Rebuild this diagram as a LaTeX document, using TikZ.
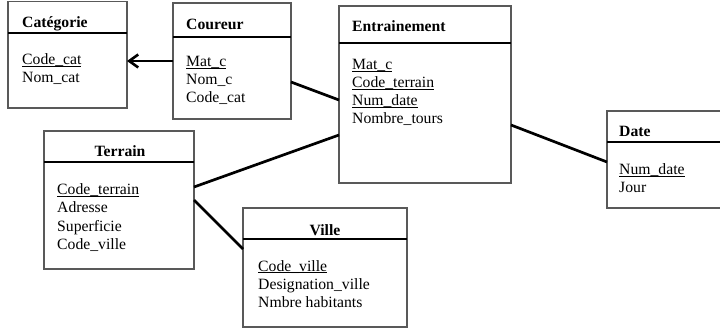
\documentclass[tikz,border=0pt]{standalone}
\usepackage{fontspec}
\setmainfont{Liberation Serif}
\usetikzlibrary{arrows.meta}
\newcommand\keyattr[1]{\underline{\smash{#1}}}
\begin{document}
\begin{tikzpicture}[x=1pt,y=-1pt,
  tablebox/.style={draw=black!65,line width=1.1pt,fill=white,inner sep=0pt,outer sep=0pt},
  divider/.style={line width=2.4pt,black},
  conn/.style={line width=2.7pt,black},
  title/.style={font=\fontsize{15.7}{18}\selectfont\bfseries,inner sep=0pt,anchor=base west},
  titlec/.style={font=\fontsize{15.7}{18}\selectfont\bfseries,inner sep=0pt,anchor=base},
  attr/.style={font=\fontsize{15.7}{18}\selectfont,inner sep=0pt,anchor=base west},
]
\useasboundingbox (0,0) rectangle (720,331);
\fill[white] (0,0) rectangle (720,331);

% tables
\node[tablebox,minimum width=119pt,minimum height=106.5pt] (cat) at (67.5,54.75) {};
\node[tablebox,minimum width=118pt,minimum height=116pt] (cour) at (232,61) {};
\node[tablebox,minimum width=172pt,minimum height=177pt] (ent) at (425,94.5) {};
\node[tablebox,minimum width=123pt,minimum height=97pt] (date) at (668.5,159.5) {};
\node[tablebox,minimum width=150pt,minimum height=138pt] (ter) at (119,200) {};
\node[tablebox,minimum width=164pt,minimum height=119pt] (ville) at (325,267.5) {};

% header separators
\draw[divider] (cat.west |- 0,33) -- (cat.east |- 0,33);
\draw[divider] (cour.west |- 0,37) -- (cour.east |- 0,37);
\draw[divider] (ent.west |- 0,43) -- (ent.east |- 0,43);
\draw[divider] (date.west |- 0,142) -- (date.east |- 0,142);
\draw[divider] (ter.west |- 0,162) -- (ter.east |- 0,162);
\draw[divider] (ville.west |- 0,239) -- (ville.east |- 0,239);

% Catégorie
\node[title] (catT) at (22,28) {Catégorie};
\node[attr] (cat1) at (22,65) {\keyattr{Code\_cat}};
\node[attr] (cat2) at (22,83) {Nom\_cat};

% Coureur
\node[title] (courT) at (186,30) {Coureur};
\node[attr] (cour1) at (186,67) {\keyattr{Mat\_c}};
\node[attr] (cour2) at (186,85) {Nom\_c};
\node[attr] (cour3) at (186,103) {Code\_cat};

% Entrainement
\node[title] (entT) at (352,32) {Entrainement};
\node[attr] (ent1) at (352,70) {\keyattr{Mat\_c}};
\node[attr] (ent2) at (352,88) {\keyattr{Code\_terrain}};
\node[attr] (ent3) at (352,106) {\keyattr{Num\_date}};
\node[attr] (ent4) at (352,124) {Nombre\_tours};

% Date
\node[title] (dateT) at (619,137) {Date};
\node[attr] (date1) at (619,175) {\keyattr{Num\_date}};
\node[attr] (date2) at (619,193) {Jour};

% Terrain
\node[titlec] (terT) at (120,157) {Terrain};
\node[attr] (ter1) at (57,195) {\keyattr{Code\_terrain}};
\node[attr] (ter2) at (57,213) {Adresse};
\node[attr] (ter3) at (57,231) {Superficie};
\node[attr] (ter4) at (57,249) {Code\_ville};

% Ville
\node[titlec] (villeT) at (325,236) {Ville};
\node[attr] (ville1) at (258,271) {\keyattr{Code\_ville}};
\node[attr] (ville2) at (258,289) {Designation\_ville};
\node[attr] (ville3) at (258,307) {Nmbre habitants};

% links
\draw[conn,-{Straight Barb[length=9pt,width=13pt,line width=2.6pt]}]
  (cour.west) -- (cat.east |- cour.west);
\draw[conn] ([yshift=-21pt]cour.east) -- ([yshift=-5.5pt]ent.west);
\draw[conn] ([yshift=13pt]ter.east) -- ([yshift=-40.5pt]ent.west);
\draw[conn] (ter.east) -- ([yshift=18.5pt]ville.west);
\draw[conn] ([yshift=-30.5pt]ent.east) -- ([yshift=-2.5pt]date.west);
\end{tikzpicture}
\end{document}
